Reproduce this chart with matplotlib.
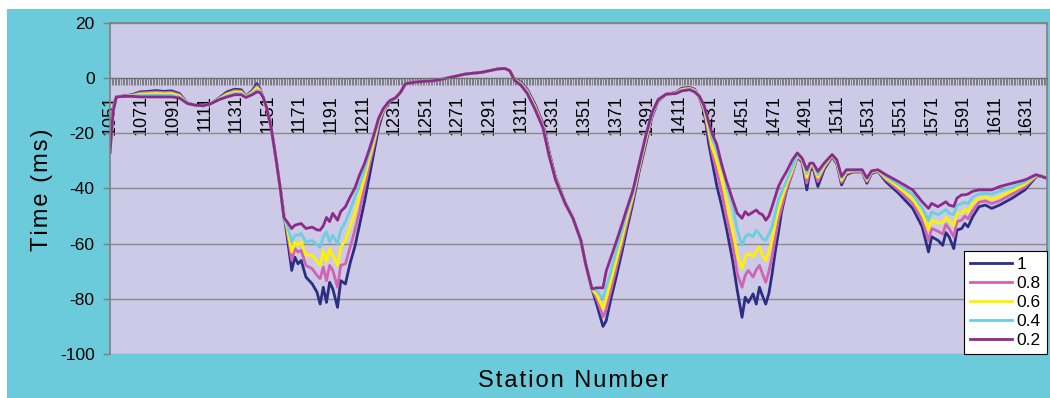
import numpy as np
import matplotlib
matplotlib.use("Agg")
import matplotlib.pyplot as plt
from matplotlib.patches import Rectangle
from matplotlib.ticker import FixedLocator

plt.rcParams['font.family'] = ['Liberation Sans', 'DejaVu Sans']
plt.rcParams['axes.unicode_minus'] = False

stations = [1051, 1053, 1055, 1060, 1065, 1070, 1075, 1080, 1085, 1090, 1095, 1100, 1105, 1110, 1115,
            1120, 1125, 1130, 1134, 1137, 1141, 1144, 1146, 1148, 1150, 1153, 1156, 1159, 1161,
            1163, 1166, 1168, 1170, 1172, 1175, 1179, 1182, 1184, 1186, 1188, 1190, 1192, 1195,
            1197, 1200, 1203, 1206, 1209, 1212, 1215, 1218, 1221, 1224, 1228, 1232, 1235, 1238,
            1246, 1255, 1261, 1268, 1276, 1286, 1292, 1297, 1301, 1304, 1307, 1311, 1315, 1320,
            1325, 1329, 1333, 1339, 1344, 1349, 1352, 1356,
            1359, 1363, 1365, 1368, 1371, 1375, 1378, 1382, 1386, 1390, 1394, 1398, 1403, 1409,
            1413, 1418, 1421, 1424, 1427,
            1430, 1432, 1435, 1438, 1441, 1445, 1448, 1451, 1453, 1455, 1458, 1460, 1462, 1464,
            1466, 1468, 1470, 1472, 1474, 1476, 1479, 1483, 1486,
            1489, 1492, 1494, 1496, 1499, 1503, 1508, 1511, 1514, 1517, 1521, 1527, 1530, 1533,
            1537, 1542,
            1550, 1559, 1565, 1569, 1571, 1575, 1578, 1580, 1582, 1585, 1587, 1590, 1592, 1594,
            1597, 1601, 1605, 1609, 1614, 1622, 1630, 1637, 1640, 1644]

t_10 = [-26, -11, -6.8, -6.4, -6.0, -5.0, -4.8, -4.5, -4.8, -4.6, -5.6, -9.0, -9.8, -10.0, -9.2,
        -7.2, -5.0, -4.0, -4.2, -6.5, -4.5, -2.0, -4.0, -7.0, -10.5, -18, -29, -41, -49,
        -57, -69.7, -64.9, -67.3, -66.1, -72.1, -74.6, -77.6, -81.9, -75.8, -81.3, -74.0, -76.4, -83.1,
        -73.4, -74.6, -67, -61, -53, -45, -36, -27, -18, -12, -8.5, -7, -5, -2.0,
        -1.3, -1.0, -0.4, 0.5, 1.5, 2.1, 2.8, 3.4, 3.5, 2.7, -0.3, -1.5, -4.0, -9.5,
        -16.5, -27, -36, -45, -50.8, -58.8, -67.3, -76.4,
        -82, -90, -88, -80, -73, -63, -55, -45, -33.5, -24, -14, -8.2, -5.8, -5.2,
        -3.6, -3.4, -4.0, -7.0, -12,
        -24, -30, -39, -46, -54, -66, -77, -86.7, -79.4, -81.3, -78.2, -81.9, -75.8, -79,
        -81.9, -78, -71, -63, -56, -48.5, -41, -34, -28.5,
        -30.5, -40.5, -33.5, -32.5, -39.3, -33, -28.5, -31, -38.7, -35, -34, -34, -38.1, -34.5,
        -33.8, -37.5,
        -41.7, -47.2, -53.9, -63, -57.5, -58.8, -60.6, -56, -57.5, -61.8, -55.1, -54.5, -52.7, -53.9,
        -50.2, -46.6, -46, -47.2, -46, -43.5, -40.5, -35.8, -35.5, -36.3]

t_08 = [-26.5, -11.5, -6.8, -6.5, -6.2, -5.4, -5.2, -5.0, -5.2, -5.1, -6.0, -9.0, -9.8, -10.0, -9.2,
        -7.4, -5.5, -4.5, -4.7, -6.6, -4.9, -2.8, -4.3, -7.0, -10.5, -18, -29, -41, -49.5,
        -55, -66, -61.8, -63, -62.4, -67.9, -69.1, -71.5, -72.7, -68.5, -73.4, -67.9, -69.7, -75.8,
        -67.9, -67.3, -61.2, -55.1, -48, -40, -32, -24.5, -16.5, -11.8, -8.4, -7, -5, -2.0,
        -1.3, -1.0, -0.4, 0.5, 1.5, 2.1, 2.8, 3.4, 3.5, 2.7, -0.4, -1.8, -4.4, -10,
        -17, -27.5, -36.3, -45.2, -50.8, -58.8, -67.3, -76.4,
        -80, -86.5, -84, -77, -70, -60.5, -53, -43.5, -32.5, -23, -13.5, -8, -5.8, -5.3,
        -3.9, -3.6, -4.2, -6.8, -11.5,
        -21, -27, -34, -41, -50, -60, -71, -75.8, -71.5, -69.7, -72.1, -69.5, -67.9, -70.9,
        -74, -70, -64.8, -58, -51.5, -47, -40.5, -34, -28.3,
        -30, -38, -32.5, -32, -37.5, -32.3, -28.2, -30.6, -37.8, -34.5, -33.8, -33.8, -37.5, -34.2,
        -33.6, -36.8,
        -40.6, -45.5, -51.5, -58.8, -54.5, -55.5, -56.5, -53, -54.5, -57.5, -52, -51.5, -50, -51,
        -48, -45, -44.5, -45.5, -44.5, -42, -39.5, -35.6, -35.5, -36.3]

t_06 = [-26.5, -11.5, -6.8, -6.6, -6.3, -5.8, -5.7, -5.5, -5.7, -5.6, -6.4, -9.1, -9.8, -10.0, -9.2,
        -7.5, -5.9, -5.0, -5.1, -6.7, -5.2, -3.5, -4.6, -7.0, -10.5, -18, -29, -41, -49.5,
        -54, -63, -59.4, -60.6, -59.4, -64.2, -64.2, -66.5, -67.9, -62.4, -66.7, -61.8, -64.2, -67.9,
        -61.2, -58.8, -53.9, -48.5, -42.5, -36.5, -29.5, -23, -15.5, -11.5, -8.3, -7, -5, -2.0,
        -1.3, -1.0, -0.4, 0.5, 1.5, 2.1, 2.8, 3.4, 3.5, 2.7, -0.5, -2.0, -4.8, -10.5,
        -17.5, -28, -36.6, -45.3, -50.8, -58.8, -67.3, -76.4,
        -78.5, -83.5, -80, -73.5, -67, -58, -51, -42.5, -32, -22.3, -13, -7.9, -5.8, -5.4,
        -4.1, -3.8, -4.5, -6.6, -11,
        -19, -25, -30, -36, -44, -55, -64, -69.1, -64.8, -63.5, -64.8, -62.5, -61.2, -64.2,
        -66.1, -63, -58.8, -53, -47.8, -44, -38.8, -33, -28,
        -29.5, -36, -31.5, -31.5, -36, -31.8, -28, -30.2, -37, -34, -33.6, -33.6, -37, -34,
        -33.5, -36.2,
        -39.5, -43.8, -49.2, -55, -51.5, -52.5, -52.5, -50.5, -51.5, -53.5, -49, -49, -47.5, -48.5,
        -45.5, -43.5, -43.2, -43.8, -43, -40.8, -38.5, -35.4, -35.5, -36.3]

t_04 = [-27, -12, -6.8, -6.6, -6.4, -6.2, -6.2, -6.1, -6.2, -6.2, -6.8, -9.1, -9.8, -10.0, -9.2,
        -7.7, -6.4, -5.5, -5.6, -6.9, -5.6, -4.3, -4.9, -7.0, -10.5, -18, -29, -41, -50,
        -53, -59.4, -56.9, -57, -56.3, -59.4, -58.8, -60.5, -61.2, -57.5, -55.7, -59.4, -56.9, -60,
        -55.1, -52.1, -47.8, -43, -38.5, -33.5, -27.5, -21.5, -15, -11.2, -8.2, -7, -5, -2.0,
        -1.3, -1.0, -0.4, 0.5, 1.5, 2.1, 2.8, 3.4, 3.5, 2.7, -0.7, -2.2, -5.1, -11,
        -17.8, -28.2, -36.8, -45.4, -50.8, -58.8, -67.3, -76.4,
        -77, -80, -76, -70, -63.5, -55.5, -49, -41.5, -31.3, -21.6, -12.7, -7.8, -5.8, -5.5,
        -4.4, -4.0, -4.8, -6.5, -10.5,
        -17, -22, -26, -32, -38, -46, -55, -60.6, -57.5, -56.5, -57.5, -55.1, -56.5, -58.2,
        -58.8, -56.5, -53.9, -49, -44.2, -41.5, -37.5, -32, -27.8,
        -29.2, -34.5, -31, -31, -35, -31.2, -27.8, -29.9, -36.2, -33.6, -33.4, -33.4, -36.6, -33.8,
        -33.3, -35.6,
        -38.5, -42.2, -47, -51.5, -48.5, -49.5, -48.5, -47.5, -49, -49.5, -46, -45.5, -45, -45.5,
        -43, -42, -41.8, -42, -41, -39.5, -37.7, -35.2, -35.5, -36.3]

t_02 = [-27, -12, -6.8, -6.6, -6.6, -6.8, -6.8, -6.8, -6.8, -6.8, -7.2, -9.2, -9.8, -10.0, -9.2,
        -7.8, -6.8, -6.0, -6.0, -7.0, -6.0, -5.0, -5.2, -7.0, -10.5, -18, -29, -41, -50.5,
        -52, -54.5, -53.3, -53, -52.7, -54.5, -54, -55, -55.1, -53.5, -50.5, -52, -49, -51.5,
        -48.4, -46.6, -43, -39.8, -35, -31, -26, -20.5, -14.5, -11, -8.2, -7, -5, -2.0,
        -1.3, -1.0, -0.4, 0.5, 1.5, 2.1, 2.8, 3.4, 3.5, 2.7, -0.8, -2.5, -5.5, -11.3,
        -18, -28.4, -36.9, -45.4, -50.8, -58.8, -67.3, -76.4,
        -76, -76, -70, -65, -60, -53, -47.5, -40.5, -30.8, -21, -12.5, -7.7, -5.8, -5.6,
        -4.6, -4.2, -5.0, -6.5, -10,
        -16, -20, -24, -31, -37, -44, -49, -50.8, -48.4, -49.6, -48.5, -47.8, -49, -49.5,
        -51.5, -50, -46.6, -43, -39.3, -37, -34, -29.5, -27.1,
        -29, -33.2, -30.8, -30.8, -33.8, -30.8, -27.7, -29.6, -35.6, -33.2, -33.2, -33.2, -36.2, -33.6,
        -33.2, -35,
        -37.5, -40.5, -44.8, -47.2, -45.4, -46.6, -45.5, -44.8, -46, -46.5, -43.5, -42.3, -42.3, -42,
        -41, -40.5, -40.5, -40.5, -39.3, -38.1, -36.9, -35, -35.5, -36.3]

series = [t_10, t_08, t_06, t_04, t_02]
labels = ['1', '0.8', '0.6', '0.4', '0.2']
colors = ['#2B2E83', '#D064B2', '#FFF100', '#6CCFE0', '#8E2A8C']

first_st = 1051
last_st = 1644

fig = plt.figure(figsize=(10.5, 3.98), dpi=100, facecolor='white')
fig.add_artist(Rectangle((7/1050, 0), 1, 1 - 9/398, transform=fig.transFigure,
                         facecolor='#6CCBDA', edgecolor='none', zorder=0))

ax = fig.add_axes([110/1050, 1 - 354/398, (1047 - 110)/1050, (354 - 23)/398])
ax.set_facecolor('#CCCAE6')

for vals, lab, col in zip(series, labels, colors):
    ax.plot(stations, vals, color=col, lw=2.0, label=lab)

ax.set_xlim(first_st, last_st)
ax.set_ylim(-100, 20)
ax.set_yticks(np.arange(-100, 21, 20))
ax.yaxis.grid(True, color='#888888', lw=1)

# x axis sits on the zero line
ax.spines['bottom'].set_position(('data', 0))
ax.spines['bottom'].set_color('#707070')
for s in ['left', 'top', 'right']:
    ax.spines[s].set_color('#808080')
    ax.spines[s].set_linewidth(1.2)

ax.xaxis.set_major_locator(FixedLocator(list(range(first_st, 1640, 20))))
ax.xaxis.set_minor_locator(FixedLocator(list(range(first_st, last_st + 1))))
ax.tick_params(axis='x', which='both', direction='out', length=5, width=0.6, color='#707070')
ax.tick_params(axis='x', which='major', labelrotation=90, pad=7)
for t in ax.get_xticklabels():
    t.set_family(['Liberation Sans Narrow', 'Liberation Sans', 'DejaVu Sans'])
    t.set_fontsize(13)
ax.tick_params(axis='y', direction='out', length=5, width=1, color='#808080', labelsize=12.5, pad=6)

hs = '\u200a'
fig.text(42/1050, 1 - 190/398, hs.join('Time (ms)'), rotation=90, ha='center', va='center',
         fontsize=17)
fig.text(573/1050, 1 - 381/398, hs.join('Station Number'), ha='center', va='center', fontsize=17)

leg = ax.legend(loc='lower right', borderaxespad=0, fancybox=False, framealpha=1,
                edgecolor='black', fontsize=12.5, handlelength=2.4, handletextpad=0.3,
                labelspacing=0.22, borderpad=0.35)
leg.get_frame().set_linewidth(0.8)

fig.savefig('out.png', dpi=100)
